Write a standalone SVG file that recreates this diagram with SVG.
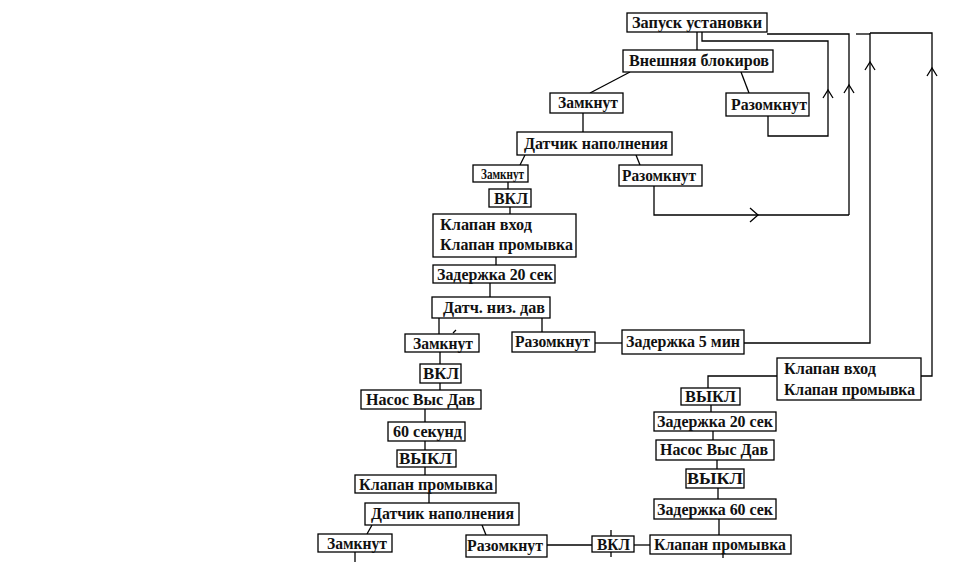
<svg xmlns="http://www.w3.org/2000/svg" width="956" height="571" viewBox="0 0 956 571">
<style>
.b{fill:#fff;stroke:#000;stroke-width:1.3}
text{font-family:"Liberation Serif","Times New Roman","DejaVu Serif",serif;font-weight:bold;font-size:16px;fill:#111}
.s{font-size:15px}
.c path,.c line{fill:none;stroke:#000;stroke-width:1.3}
</style>
<rect width="956" height="571" fill="#fff"/>
<g class="c" id="connectors">
<line x1="697" y1="32" x2="697" y2="50"/>
<path d="M767,34 H849 V215"/>
<path d="M702,32 V41 H828 V136 H768 V116"/>
<path d="M856,34 H870"/>
<path d="M870,33 H932 V376 H921"/>
<path d="M870,33 V343 H744"/>
<line x1="630" y1="72" x2="590" y2="93"/>
<line x1="741" y1="72" x2="749" y2="93"/>
<line x1="583" y1="113" x2="583" y2="132"/>
<line x1="525" y1="155" x2="520" y2="165"/>
<line x1="636" y1="155" x2="640" y2="165"/>
<path d="M654,186 V215 H849"/>
<line x1="508" y1="182" x2="508" y2="189"/>
<line x1="510" y1="207" x2="510" y2="214"/>
<line x1="496" y1="257" x2="496" y2="265"/>
<line x1="490" y1="283" x2="490" y2="297"/>
<line x1="439" y1="318" x2="439" y2="334"/>
<line x1="453" y1="333" x2="456" y2="330"/>
<line x1="542" y1="318" x2="542" y2="332"/>
<line x1="595" y1="343" x2="622" y2="343"/>
<line x1="440" y1="352" x2="440" y2="364"/>
<line x1="440" y1="383" x2="440" y2="390"/>
<line x1="425" y1="409" x2="425" y2="422"/>
<line x1="425" y1="441" x2="425" y2="450"/>
<line x1="425" y1="467" x2="425" y2="475"/>
<line x1="429" y1="493" x2="429" y2="503"/>
<line x1="372" y1="525" x2="367" y2="534"/>
<line x1="355" y1="552" x2="355" y2="562"/>
<line x1="482" y1="525" x2="486" y2="535"/>
<line x1="547" y1="545" x2="592" y2="545"/>
<line x1="611" y1="530" x2="611" y2="536"/>
<line x1="611" y1="552" x2="611" y2="557"/>
<line x1="634" y1="545" x2="650" y2="545"/>
<line x1="723" y1="554" x2="723" y2="558"/>
<path d="M777,376 H708 V388"/>
<line x1="711" y1="405" x2="711" y2="412"/>
<line x1="713" y1="431" x2="713" y2="440"/>
<line x1="717" y1="460" x2="717" y2="469"/>
<line x1="718" y1="488" x2="718" y2="499"/>
<line x1="719" y1="519" x2="719" y2="535"/>
<path d="M823,98 L828,90 L833,98"/>
<path d="M844,93 L849,85 L854,93"/>
<path d="M865,70 L870,62 L875,70"/>
<path d="M927,76 L932,68 L937,76"/>
<path d="M750,208 L758,215 L750,222"/>
</g>
<g id="n1"><rect class="b" x="627" y="13" width="140" height="19"/><text x="632" y="28" textLength="130" lengthAdjust="spacingAndGlyphs">Запуск установки</text></g>
<g id="n2"><rect class="b" x="623" y="50" width="150" height="22"/><text x="629" y="66" textLength="140" lengthAdjust="spacingAndGlyphs">Внешняя блокиров</text></g>
<g id="n3"><rect class="b" x="550" y="93" width="73" height="20"/><text x="558" y="108" textLength="60" lengthAdjust="spacingAndGlyphs">Замкнут</text></g>
<g id="n4"><rect class="b" x="726" y="93" width="83" height="23"/><text x="731" y="110" textLength="76" lengthAdjust="spacingAndGlyphs">Разомкнут</text></g>
<g id="n5"><rect class="b" x="517" y="132" width="155" height="23"/><text x="524" y="149" textLength="144" lengthAdjust="spacingAndGlyphs">Датчик наполнения</text></g>
<g id="n6"><rect class="b" x="473" y="165" width="55" height="17"/><text class="s" x="481" y="179" textLength="43" lengthAdjust="spacingAndGlyphs">Замкнут</text></g>
<g id="n7"><rect class="b" x="619" y="165" width="83" height="21"/><text x="622" y="181" textLength="74" lengthAdjust="spacingAndGlyphs">Разомкнут</text></g>
<g id="n8"><rect class="b" x="489" y="189" width="42" height="18"/><text x="494" y="204" textLength="34" lengthAdjust="spacingAndGlyphs">ВКЛ</text></g>
<g id="n9"><rect class="b" x="433" y="214" width="143" height="43"/><text x="440" y="230" textLength="92" lengthAdjust="spacingAndGlyphs">Клапан вход</text><text x="440" y="250" textLength="133" lengthAdjust="spacingAndGlyphs">Клапан промывка</text></g>
<g id="n10"><rect class="b" x="433" y="265" width="122" height="18"/><text x="437" y="280" textLength="116" lengthAdjust="spacingAndGlyphs">Задержка 20 сек</text></g>
<g id="n11"><rect class="b" x="432" y="297" width="118" height="21"/><text x="443" y="313" textLength="102" lengthAdjust="spacingAndGlyphs">Датч. низ. дав</text></g>
<g id="n12"><rect class="b" x="405" y="334" width="74" height="18"/><text x="413" y="349" textLength="60" lengthAdjust="spacingAndGlyphs">Замкнут</text></g>
<g id="n13"><rect class="b" x="512" y="332" width="83" height="20"/><text x="515" y="347" textLength="75" lengthAdjust="spacingAndGlyphs">Разомкнут</text></g>
<g id="n14"><rect class="b" x="622" y="330" width="122" height="24"/><text x="626" y="347" textLength="114" lengthAdjust="spacingAndGlyphs">Задержка 5 мин</text></g>
<g id="n15"><rect class="b" x="777" y="358" width="144" height="42"/><text x="784" y="374" textLength="92" lengthAdjust="spacingAndGlyphs">Клапан вход</text><text x="784" y="395" textLength="131" lengthAdjust="spacingAndGlyphs">Клапан промывка</text></g>
<g id="n16"><rect class="b" x="420" y="364" width="41" height="19"/><text x="423" y="379" textLength="36" lengthAdjust="spacingAndGlyphs">ВКЛ</text></g>
<g id="n17"><rect class="b" x="361" y="390" width="120" height="19"/><text x="366" y="405" textLength="109" lengthAdjust="spacingAndGlyphs">Насос Выс Дав</text></g>
<g id="n18"><rect class="b" x="388" y="422" width="77" height="19"/><text x="393" y="437" textLength="69" lengthAdjust="spacingAndGlyphs">60 секунд</text></g>
<g id="n19"><rect class="b" x="397" y="450" width="59" height="17"/><text x="399" y="464" textLength="53" lengthAdjust="spacingAndGlyphs">ВЫКЛ</text></g>
<g id="n20"><rect class="b" x="355" y="475" width="141" height="18"/><text x="359" y="490" textLength="134" lengthAdjust="spacingAndGlyphs">Клапан промывка</text></g>
<g id="n21"><rect class="b" x="365" y="503" width="154" height="22"/><text x="371" y="519" textLength="143" lengthAdjust="spacingAndGlyphs">Датчик наполнения</text></g>
<g id="n22"><rect class="b" x="318" y="534" width="74" height="18"/><text x="327" y="549" textLength="60" lengthAdjust="spacingAndGlyphs">Замкнут</text></g>
<g id="n23"><rect class="b" x="466" y="535" width="81" height="22"/><text x="467" y="551" textLength="76" lengthAdjust="spacingAndGlyphs">Разомкнут</text></g>
<g id="n24"><rect class="b" x="592" y="536" width="42" height="16"/><text x="597" y="550" textLength="33" lengthAdjust="spacingAndGlyphs">ВКЛ</text></g>
<g id="n25"><rect class="b" x="650" y="535" width="141" height="19"/><text x="654" y="550" textLength="132" lengthAdjust="spacingAndGlyphs">Клапан промывка</text></g>
<g id="n26"><rect class="b" x="681" y="388" width="59" height="17"/><text x="685" y="402" textLength="51" lengthAdjust="spacingAndGlyphs">ВЫКЛ</text></g>
<g id="n27"><rect class="b" x="654" y="412" width="122" height="19"/><text x="657" y="427" textLength="116" lengthAdjust="spacingAndGlyphs">Задержка 20 сек</text></g>
<g id="n28"><rect class="b" x="656" y="440" width="118" height="20"/><text x="660" y="455" textLength="108" lengthAdjust="spacingAndGlyphs">Насос Выс Дав</text></g>
<g id="n29"><rect class="b" x="686" y="469" width="58" height="19"/><text x="687" y="484" textLength="56" lengthAdjust="spacingAndGlyphs">ВЫКЛ</text></g>
<g id="n30"><rect class="b" x="654" y="499" width="122" height="20"/><text x="657" y="515" textLength="116" lengthAdjust="spacingAndGlyphs">Задержка 60 сек</text></g>
</svg>
